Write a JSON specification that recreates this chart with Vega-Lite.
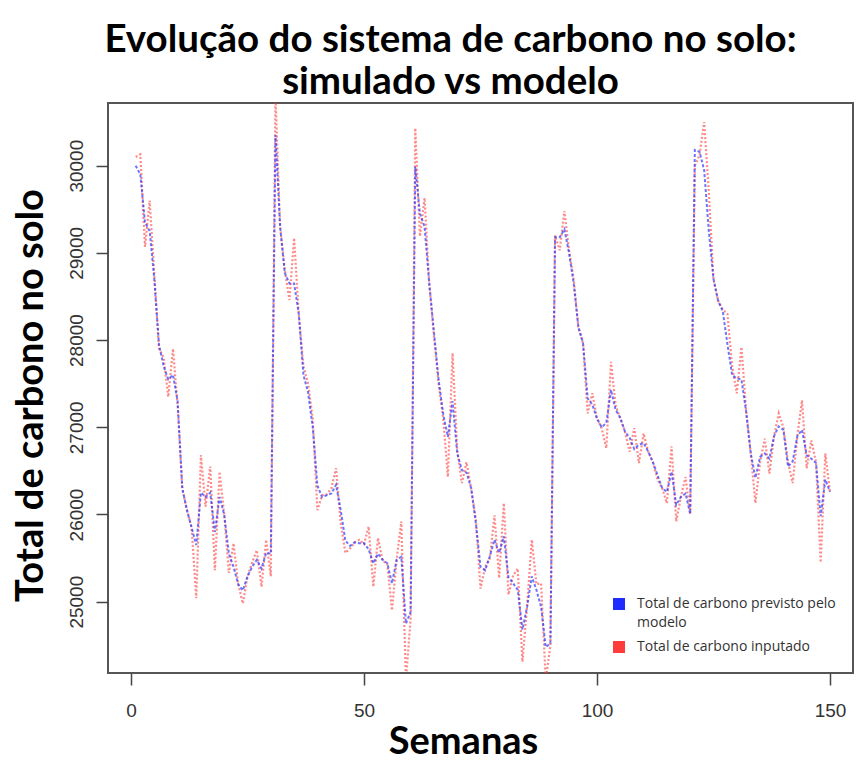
{
  "$schema": "https://vega.github.io/schema/vega-lite/v6.json",
  "width": 745,
  "height": 570,
  "autosize": {"type": "none"},
  "padding": {"left": 108, "top": 103, "right": 3, "bottom": 90},
  "background": "white",
  "title": {
    "text": ["Evolução do sistema de carbono no solo:", "simulado vs modelo"],
    "font": "Lato",
    "fontSize": 38.5,
    "fontWeight": "bold",
    "color": "black",
    "anchor": "middle",
    "frame": "group",
    "dx": -30,
    "offset": 1,
    "lineHeight": 42
  },
  "data": {
    "values": [
      {"semana": 1, "previsto": 30000, "inputado": 30100},
      {"semana": 2, "previsto": 29900, "inputado": 30130},
      {"semana": 3, "previsto": 29350, "inputado": 29070},
      {"semana": 4, "previsto": 29250, "inputado": 29600},
      {"semana": 5, "previsto": 28700, "inputado": 28750},
      {"semana": 6, "previsto": 27950, "inputado": 27900},
      {"semana": 7, "previsto": 27700, "inputado": 27800},
      {"semana": 8, "previsto": 27550, "inputado": 27350},
      {"semana": 9, "previsto": 27600, "inputado": 27900},
      {"semana": 10, "previsto": 27300, "inputado": 27250},
      {"semana": 11, "previsto": 26300, "inputado": 26300},
      {"semana": 12, "previsto": 26050, "inputado": 26050},
      {"semana": 13, "previsto": 25850, "inputado": 25850},
      {"semana": 14, "previsto": 25650, "inputado": 25040},
      {"semana": 15, "previsto": 26250, "inputado": 26680},
      {"semana": 16, "previsto": 26200, "inputado": 26090},
      {"semana": 17, "previsto": 26250, "inputado": 26550},
      {"semana": 18, "previsto": 25800, "inputado": 25360},
      {"semana": 19, "previsto": 26200, "inputado": 26490},
      {"semana": 20, "previsto": 26000, "inputado": 26000},
      {"semana": 21, "previsto": 25550, "inputado": 25330},
      {"semana": 22, "previsto": 25400, "inputado": 25670},
      {"semana": 23, "previsto": 25200, "inputado": 25200},
      {"semana": 24, "previsto": 25130, "inputado": 24980},
      {"semana": 25, "previsto": 25290, "inputado": 25290},
      {"semana": 26, "previsto": 25400, "inputado": 25450},
      {"semana": 27, "previsto": 25480, "inputado": 25590},
      {"semana": 28, "previsto": 25380, "inputado": 25170},
      {"semana": 29, "previsto": 25560, "inputado": 25710},
      {"semana": 30, "previsto": 25550, "inputado": 25290},
      {"semana": 31, "previsto": 30350, "inputado": 30800},
      {"semana": 32, "previsto": 29300, "inputado": 29300},
      {"semana": 33, "previsto": 28770, "inputado": 28800},
      {"semana": 34, "previsto": 28650, "inputado": 28460},
      {"semana": 35, "previsto": 28650, "inputado": 29170},
      {"semana": 36, "previsto": 28300, "inputado": 28300},
      {"semana": 37, "previsto": 27600, "inputado": 27700},
      {"semana": 38, "previsto": 27400, "inputado": 27500},
      {"semana": 39, "previsto": 27000, "inputado": 27100},
      {"semana": 40, "previsto": 26330, "inputado": 26050},
      {"semana": 41, "previsto": 26200, "inputado": 26220},
      {"semana": 42, "previsto": 26220, "inputado": 26230},
      {"semana": 43, "previsto": 26240, "inputado": 26300},
      {"semana": 44, "previsto": 26340, "inputado": 26530},
      {"semana": 45, "previsto": 26050, "inputado": 25900},
      {"semana": 46, "previsto": 25700, "inputado": 25560},
      {"semana": 47, "previsto": 25640, "inputado": 25610},
      {"semana": 48, "previsto": 25680, "inputado": 25680},
      {"semana": 49, "previsto": 25670, "inputado": 25710},
      {"semana": 50, "previsto": 25670, "inputado": 25660},
      {"semana": 51, "previsto": 25600, "inputado": 25860},
      {"semana": 52, "previsto": 25440, "inputado": 25170},
      {"semana": 53, "previsto": 25550, "inputado": 25730},
      {"semana": 54, "previsto": 25480, "inputado": 25470},
      {"semana": 55, "previsto": 25440, "inputado": 25430},
      {"semana": 56, "previsto": 25210, "inputado": 24900},
      {"semana": 57, "previsto": 25480, "inputado": 25480},
      {"semana": 58, "previsto": 25516, "inputado": 25920},
      {"semana": 59, "previsto": 24750, "inputado": 24100},
      {"semana": 60, "previsto": 24880, "inputado": 24800},
      {"semana": 61, "previsto": 29990, "inputado": 30430},
      {"semana": 62, "previsto": 29450, "inputado": 29190},
      {"semana": 63, "previsto": 29300, "inputado": 29630},
      {"semana": 64, "previsto": 28650, "inputado": 28650},
      {"semana": 65, "previsto": 28100, "inputado": 28050},
      {"semana": 66, "previsto": 27550, "inputado": 27500},
      {"semana": 67, "previsto": 27150, "inputado": 27100},
      {"semana": 68, "previsto": 26890, "inputado": 26430},
      {"semana": 69, "previsto": 27300, "inputado": 27850},
      {"semana": 70, "previsto": 26700, "inputado": 26750},
      {"semana": 71, "previsto": 26510, "inputado": 26360},
      {"semana": 72, "previsto": 26480, "inputado": 26600},
      {"semana": 73, "previsto": 26300, "inputado": 26300},
      {"semana": 74, "previsto": 25900, "inputado": 25950},
      {"semana": 75, "previsto": 25400, "inputado": 25150},
      {"semana": 76, "previsto": 25360, "inputado": 25400},
      {"semana": 77, "previsto": 25520, "inputado": 25500},
      {"semana": 78, "previsto": 25710, "inputado": 25990},
      {"semana": 79, "previsto": 25560, "inputado": 25270},
      {"semana": 80, "previsto": 25750, "inputado": 26130},
      {"semana": 81, "previsto": 25280, "inputado": 25080},
      {"semana": 82, "previsto": 25210, "inputado": 25300},
      {"semana": 83, "previsto": 25135, "inputado": 25380},
      {"semana": 84, "previsto": 24680, "inputado": 24310},
      {"semana": 85, "previsto": 24940, "inputado": 24950},
      {"semana": 86, "previsto": 25290, "inputado": 25710},
      {"semana": 87, "previsto": 25135, "inputado": 25200},
      {"semana": 88, "previsto": 24940, "inputado": 25210},
      {"semana": 89, "previsto": 24480, "inputado": 24100},
      {"semana": 90, "previsto": 24520, "inputado": 24500},
      {"semana": 91, "previsto": 29180, "inputado": 29200},
      {"semana": 92, "previsto": 29180, "inputado": 29030},
      {"semana": 93, "previsto": 29270, "inputado": 29480},
      {"semana": 94, "previsto": 29000, "inputado": 29030},
      {"semana": 95, "previsto": 28650, "inputado": 28700},
      {"semana": 96, "previsto": 28150, "inputado": 28150},
      {"semana": 97, "previsto": 27970, "inputado": 27960},
      {"semana": 98, "previsto": 27330, "inputado": 27160},
      {"semana": 99, "previsto": 27260, "inputado": 27390},
      {"semana": 100, "previsto": 27100, "inputado": 27100},
      {"semana": 101, "previsto": 27000, "inputado": 26990},
      {"semana": 102, "previsto": 27050, "inputado": 26760},
      {"semana": 103, "previsto": 27430, "inputado": 27750},
      {"semana": 104, "previsto": 27200, "inputado": 27250},
      {"semana": 105, "previsto": 27110, "inputado": 27100},
      {"semana": 106, "previsto": 26950, "inputado": 26950},
      {"semana": 107, "previsto": 26880, "inputado": 26720},
      {"semana": 108, "previsto": 26750, "inputado": 26990},
      {"semana": 109, "previsto": 26800, "inputado": 26590},
      {"semana": 110, "previsto": 26820, "inputado": 26930},
      {"semana": 111, "previsto": 26720, "inputado": 26720},
      {"semana": 112, "previsto": 26600, "inputado": 26600},
      {"semana": 113, "previsto": 26450, "inputado": 26400},
      {"semana": 114, "previsto": 26300, "inputado": 26300},
      {"semana": 115, "previsto": 26260, "inputado": 26130},
      {"semana": 116, "previsto": 26490, "inputado": 26780},
      {"semana": 117, "previsto": 26110, "inputado": 25920},
      {"semana": 118, "previsto": 26200, "inputado": 26200},
      {"semana": 119, "previsto": 26240, "inputado": 26430},
      {"semana": 120, "previsto": 26010, "inputado": 26000},
      {"semana": 121, "previsto": 30180, "inputado": 30000},
      {"semana": 122, "previsto": 30160, "inputado": 30120},
      {"semana": 123, "previsto": 29950, "inputado": 30500},
      {"semana": 124, "previsto": 29250, "inputado": 29700},
      {"semana": 125, "previsto": 28700, "inputado": 28700},
      {"semana": 126, "previsto": 28450, "inputado": 28450},
      {"semana": 127, "previsto": 28330, "inputado": 28350},
      {"semana": 128, "previsto": 27950, "inputado": 28300},
      {"semana": 129, "previsto": 27600, "inputado": 27700},
      {"semana": 130, "previsto": 27560, "inputado": 27390},
      {"semana": 131, "previsto": 27550, "inputado": 27920},
      {"semana": 132, "previsto": 27180, "inputado": 27200},
      {"semana": 133, "previsto": 26700, "inputado": 26700},
      {"semana": 134, "previsto": 26420, "inputado": 26130},
      {"semana": 135, "previsto": 26660, "inputado": 26600},
      {"semana": 136, "previsto": 26700, "inputado": 26870},
      {"semana": 137, "previsto": 26640, "inputado": 26470},
      {"semana": 138, "previsto": 26900, "inputado": 26900},
      {"semana": 139, "previsto": 27010, "inputado": 27160},
      {"semana": 140, "previsto": 26970, "inputado": 27000},
      {"semana": 141, "previsto": 26550, "inputado": 26600},
      {"semana": 142, "previsto": 26610, "inputado": 26360},
      {"semana": 143, "previsto": 26900, "inputado": 26900},
      {"semana": 144, "previsto": 26970, "inputado": 27310},
      {"semana": 145, "previsto": 26680, "inputado": 26530},
      {"semana": 146, "previsto": 26640, "inputado": 26850},
      {"semana": 147, "previsto": 26590, "inputado": 26600},
      {"semana": 148, "previsto": 25980, "inputado": 25450},
      {"semana": 149, "previsto": 26400, "inputado": 26700},
      {"semana": 150, "previsto": 26260, "inputado": 26260}
    ]
  },
  "transform": [{"fold": ["previsto", "inputado"], "as": ["serie", "carbono"]}],
  "encoding": {
    "x": {
      "field": "semana",
      "type": "quantitative",
      "scale": {"domain": [-4.94, 154.94], "nice": false, "zero": false},
      "axis": {
        "values": [0, 50, 100, 150],
        "title": "Semanas",
        "titleFont": "Lato",
        "titleFontSize": 38,
        "titleFontWeight": "bold",
        "titleColor": "black",
        "titleX": 355,
        "titleY": 80,
        "titleAlign": "center",
        "titleBaseline": "alphabetic",
        "domain": false,
        "grid": false,
        "tickSize": 12,
        "tickColor": "#444",
        "tickWidth": 1.5,
        "labelFont": "Liberation Sans",
        "labelFontSize": 19,
        "labelColor": "#333",
        "labelPadding": 31,
        "labelAlign": "center",
        "labelBaseline": "alphabetic",
        "labelFlush": false,
        "labelOverlap": false
      }
    },
    "y": {
      "field": "carbono",
      "type": "quantitative",
      "scale": {"domain": [24182, 30719], "nice": false, "zero": false},
      "axis": {
        "values": [25000, 26000, 27000, 28000, 29000, 30000],
        "format": "d",
        "title": "Total de carbono no solo",
        "titleFont": "Lato",
        "titleFontSize": 38,
        "titleFontWeight": "bold",
        "titleColor": "black",
        "titleAngle": 270,
        "titleX": -66,
        "titleY": 292,
        "titleAlign": "center",
        "titleBaseline": "alphabetic",
        "domain": false,
        "grid": false,
        "tickSize": 12,
        "tickColor": "#444",
        "tickWidth": 1.5,
        "labelFont": "Liberation Sans",
        "labelFontSize": 19,
        "labelColor": "#333",
        "labelAngle": 270,
        "labelAlign": "center",
        "labelBaseline": "alphabetic",
        "labelPadding": 14,
        "labelFlush": false,
        "labelOverlap": false
      }
    },
    "color": {
      "field": "serie",
      "type": "nominal",
      "scale": {"domain": ["previsto", "inputado"], "range": ["#1f2bff", "#ff3c3c"]},
      "legend": {
        "title": null,
        "orient": "none",
        "legendX": 504,
        "legendY": 494,
        "symbolType": "square",
        "symbolSize": 144,
        "symbolOpacity": 1,
        "symbolStrokeWidth": 0,
        "labelFont": "Open Sans",
        "labelFontSize": 14,
        "labelColor": "#333",
        "labelOffset": 11,
        "labelLimit": 400,
        "rowPadding": 10,
        "labelExpr": "datum.value == 'previsto' ? ['Total de carbono previsto pelo', 'modelo'] : 'Total de carbono inputado'",
        "encode": {
          "symbols": {"update": {"fill": {"scale": "color", "field": "value"}, "strokeDash": {"value": []}}},
          "labels": {"update": {"lineHeight": {"value": 19}}}
        }
      }
    }
  },
  "layer": [
    {
      "transform": [{"filter": "datum.serie == 'inputado'"}],
      "mark": {"type": "line", "clip": true, "strokeWidth": 2.2, "strokeDash": [2, 2], "opacity": 0.6}
    },
    {
      "transform": [{"filter": "datum.serie == 'previsto'"}],
      "mark": {"type": "line", "clip": true, "strokeWidth": 2, "strokeDash": [3, 2], "opacity": 0.65}
    }
  ],
  "config": {
    "view": {"stroke": "#555", "strokeWidth": 2}
  }
}
